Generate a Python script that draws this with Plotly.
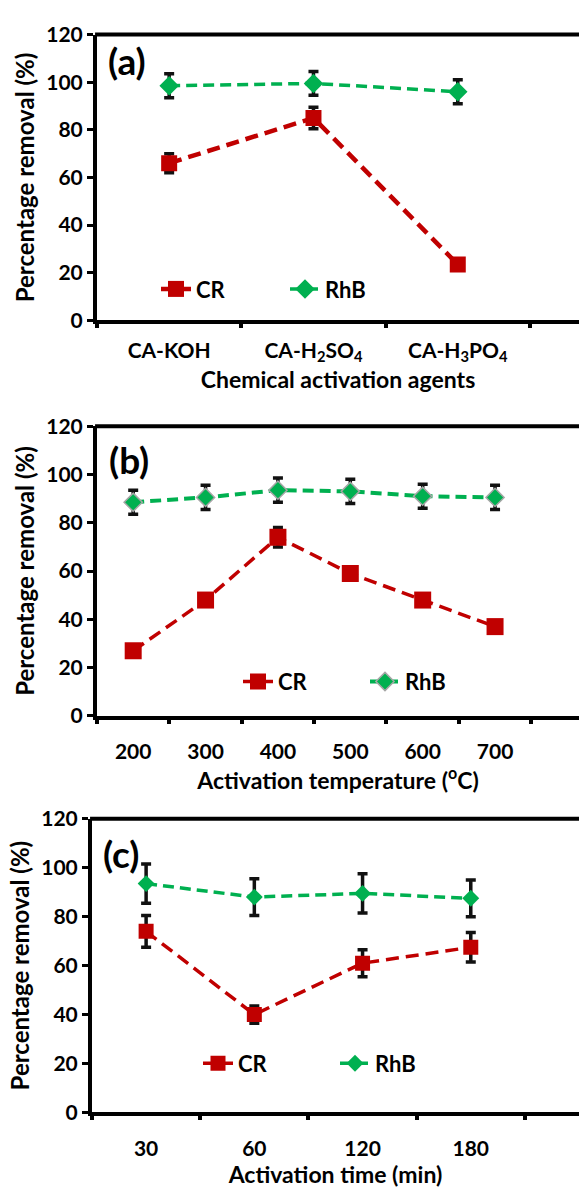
import plotly.graph_objects as go

# Panel (a): chemical activation agents
agents = ["CA-KOH", "CA-H<sub>2</sub>SO<sub>4</sub>", "CA-H<sub>3</sub>PO<sub>4</sub>"]
cr_a = [66, 85, 23.5]
cr_a_err = [4, 4.5, 1]
rhb_a = [98.5, 99.5, 96]
rhb_a_err = [5, 5, 5]

# Panel (b): activation temperature
temps = ["200", "300", "400", "500", "600", "700"]
cr_b = [27, 48, 74, 59, 48, 37]
cr_b_err = [1.5, 1.5, 4, 2.5, 1.5, 1.5]
rhb_b = [88.5, 90.5, 93.5, 93, 91, 90.5]
rhb_b_err = [5, 5, 5, 5, 5, 5]

# Panel (c): activation time
times = ["30", "60", "120", "180"]
cr_c = [74, 40, 61, 67.5]
cr_c_err = [6.5, 3.5, 5.5, 6]
rhb_c = [93.5, 88, 89.5, 87.5]
rhb_c_err = [8, 7.5, 8, 7.5]

RED = "#C00000"
GREEN = "#00B050"
FONT = "Lato, 'Open Sans', sans-serif"

fig = go.Figure()


def add_pair(cats, cr, cr_err, rhb, rhb_err, xa, ya, legend, sq, dm, cr_w, rhb_w, dm_line):
    fig.add_trace(go.Scatter(
        x=cats, y=cr, name="CR", xaxis=xa, yaxis=ya, legend=legend,
        mode="lines+markers",
        line=dict(color=RED, width=cr_w, dash="13px,7px"),
        marker=dict(symbol="square", size=sq, color=RED),
        error_y=dict(type="data", array=cr_err, color="#111111", thickness=3.5, width=5),
    ))
    fig.add_trace(go.Scatter(
        x=cats, y=rhb, name="RhB", xaxis=xa, yaxis=ya, legend=legend,
        mode="lines+markers",
        line=dict(color=GREEN, width=rhb_w, dash="11px,6px"),
        marker=dict(symbol="diamond", size=dm, color=GREEN, line=dm_line),
        error_y=dict(type="data", array=rhb_err, color="#111111", thickness=3.5, width=5),
    ))


no_line = dict(width=0)
grey_line = dict(width=1.5, color="#A6A6A6")
add_pair(agents, cr_a, cr_a_err, rhb_a, rhb_a_err, "x", "y", "legend", 16, 15, 4.5, 3.5, no_line)
add_pair(temps, cr_b, cr_b_err, rhb_b, rhb_b_err, "x2", "y2", "legend2", 17, 14, 3.5, 4, grey_line)
add_pair(times, cr_c, cr_c_err, rhb_c, rhb_c_err, "x3", "y3", "legend3", 15, 13, 3.5, 3.5, no_line)

H = 1192
W = 579


def ydom(top, bottom):
    return [1 - bottom / H, 1 - top / H]


tick_font = dict(family=FONT, size=21, color="black", weight="bold")
xtitle_font = dict(family=FONT, size=23, color="black", weight="bold")
ytitle_font = dict(family=FONT, size=24, color="black", weight="bold")

common_x = dict(
    type="category", tickson="boundaries", ticks="outside", ticklen=4, tickwidth=4,
    tickcolor="black", showline=True, linewidth=4, linecolor="black", mirror=False,
    showgrid=False, zeroline=False, tickfont=tick_font, title_font=xtitle_font,
    ticklabelstandoff=14, title_standoff=2,
)
common_y = dict(
    range=[0, 120], dtick=20, ticks="outside", ticklen=6, tickwidth=3, tickcolor="black",
    showline=True, linewidth=4, linecolor="black", mirror=False, showgrid=False,
    zeroline=False, tickfont=tick_font, title_font=ytitle_font,
    title_text="Percentage removal (%)", title_standoff=6,
)

fig.update_layout(
    width=W, height=H,
    margin=dict(l=0, r=0, t=0, b=0),
    paper_bgcolor="white", plot_bgcolor="white",
    font=dict(family=FONT, color="black", weight="bold"),
    xaxis=dict(common_x, domain=[97 / W, 1], range=[-0.5, 2.84], anchor="y",
               ticklabelstandoff=8, title_text="Chemical activation agents"),
    yaxis=dict(common_y, domain=ydom(21, 313), anchor="x"),
    xaxis2=dict(common_x, domain=[97 / W, 1], range=[-0.5, 6.16], anchor="y2",
                title_text="Activation temperature (<sup>o</sup>C)"),
    yaxis2=dict(common_y, domain=ydom(421, 717), anchor="x2"),
    xaxis3=dict(common_x, domain=[92 / W, 1], range=[-0.5, 4.0], anchor="y3",
                title_standoff=9, title_text="Activation time (min)"),
    yaxis3=dict(common_y, domain=ydom(822, 1122), anchor="x3"),
    showlegend=True,
)

# Top frame edge of each panel (the frame stays open on the right)
for xa in ["x", "x2", "x3"]:
    ya = "y" if xa == "x" else "y" + xa[1:]
    fig.add_shape(type="line", xref=f"{xa} domain", yref=f"{ya} domain",
                  x0=-0.004, x1=1.01, y0=1, y1=1, line=dict(color="black", width=4))

legend_common = dict(orientation="h", bgcolor="rgba(0,0,0,0)", yanchor="middle",
                     xanchor="left", font=dict(family=FONT, size=22, color="black", weight="bold"),
                     entrywidth=80, entrywidthmode="pixels")
fig.update_layout(
    legend=dict(legend_common, x=156 / W, y=1 - 281 / H, entrywidth=84),
    legend2=dict(legend_common, x=238 / W, y=1 - 682 / H, entrywidth=82),
    legend3=dict(legend_common, x=198 / W, y=1 - 1072 / H, entrywidth=92),
)

# Panel letters
for label, px, py in [("(a)", 106, 48), ("(b)", 107, 455), ("(c)", 101, 857)]:
    fig.add_annotation(text=label, xref="paper", yref="paper", x=px / W, y=1 - py / H,
                       xanchor="left", yanchor="middle", showarrow=False,
                       font=dict(family=FONT, size=37, color="black", weight="bold"))

fig.write_html("out.html", config={"staticPlot": True})
